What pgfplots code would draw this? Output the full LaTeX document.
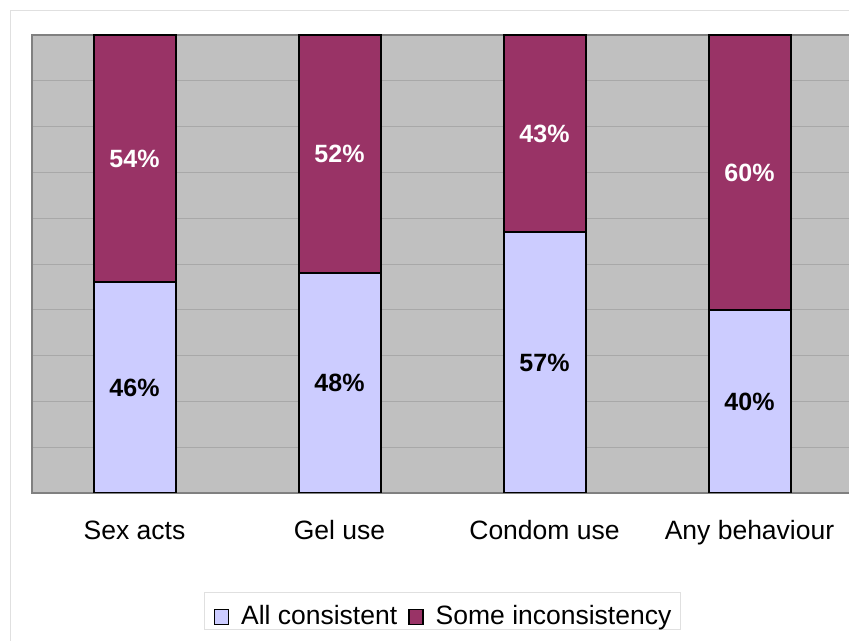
\documentclass[border=0pt]{standalone}
\usepackage{fontspec}
\setmainfont{Liberation Sans}
\usepackage{pgfplots}
\pgfplotsset{compat=1.18}
\definecolor{consistent}{HTML}{CCCCFF}
\definecolor{inconsistent}{HTML}{993366}
\definecolor{plotbg}{HTML}{C0C0C0}
\definecolor{gridc}{HTML}{A8A8A8}
\definecolor{framec}{HTML}{808080}

\newcommand{\chartfont}{\fontsize{26.5bp}{30bp}\selectfont}
\newcommand{\valfont}{\fontsize{25bp}{29bp}\selectfont\bfseries}

\begin{document}
\begin{tikzpicture}
\useasboundingbox (0,0) rectangle (849bp,641bp);
% faint outer chart frame
\draw[black!12, line width=1bp] (10bp,-10bp) -- (10bp,630bp) -- (870bp,630bp);
\begin{axis}[
    at={(32bp,148bp)}, anchor=south west,
    scale only axis,
    width=820bp, height=458bp,
    ybar stacked,
    bar width=0.4,
    xmin=-0.5, xmax=3.5,
    ymin=0, ymax=100,
    xtick={0,1,2,3},
    xticklabels={Sex acts, Gel use, Condom use, Any behaviour},
    major x tick style={draw=none},
    extra x ticks={-0.5,0.5,1.5,2.5,3.5},
    extra x tick labels={},
    extra x tick style={tick style={draw=black!20, line width=1bp}, major tick length=7bp, tick pos=left, tick align=outside},
    ytick={0,10,...,100},
    yticklabels={},
    major y tick style={draw=none},
    ymajorgrids,
    grid style={draw=gridc, line width=0.8bp},
    axis background/.style={fill=plotbg},
    axis line style={draw=framec, line width=1.5bp},
    x tick label style={font=\chartfont, yshift=-24bp},
    /pgf/number format/assume math mode=true,
    visualization depends on=rawy \as \rawy,
    nodes near coords={\pgfmathprintnumber{\rawy}\%},
    every node near coord/.append style={font=\valfont, anchor=center},
    every axis plot/.append style={draw=black, line width=2bp},
    legend style={
        at={(0.5006,-0.2576)}, anchor=center,
        draw=black!12, line width=1bp,
        font=\chartfont,
        legend columns=2,
        inner xsep=9bp, inner ysep=3bp,
        nodes={inner sep=0bp, text height=29bp, text depth=2bp},
        /tikz/every odd column/.append style={column sep=12bp},
        /tikz/every even column/.append style={column sep=11bp},
    },
    legend image code/.code={
        \draw[#1, line width=1.5bp] (0bp,-13.5bp) rectangle (14bp,1.5bp);
    },
]
\addplot[fill=consistent, every node near coord/.append style={text=black}]
    coordinates {(0,46) (1,48) (2,57) (3,40)};
\addlegendentry{All consistent}
\addplot[fill=inconsistent, every node near coord/.append style={text=white}]
    coordinates {(0,54) (1,52) (2,43) (3,60)};
\addlegendentry{Some inconsistency}
\end{axis}
\end{tikzpicture}
\end{document}
